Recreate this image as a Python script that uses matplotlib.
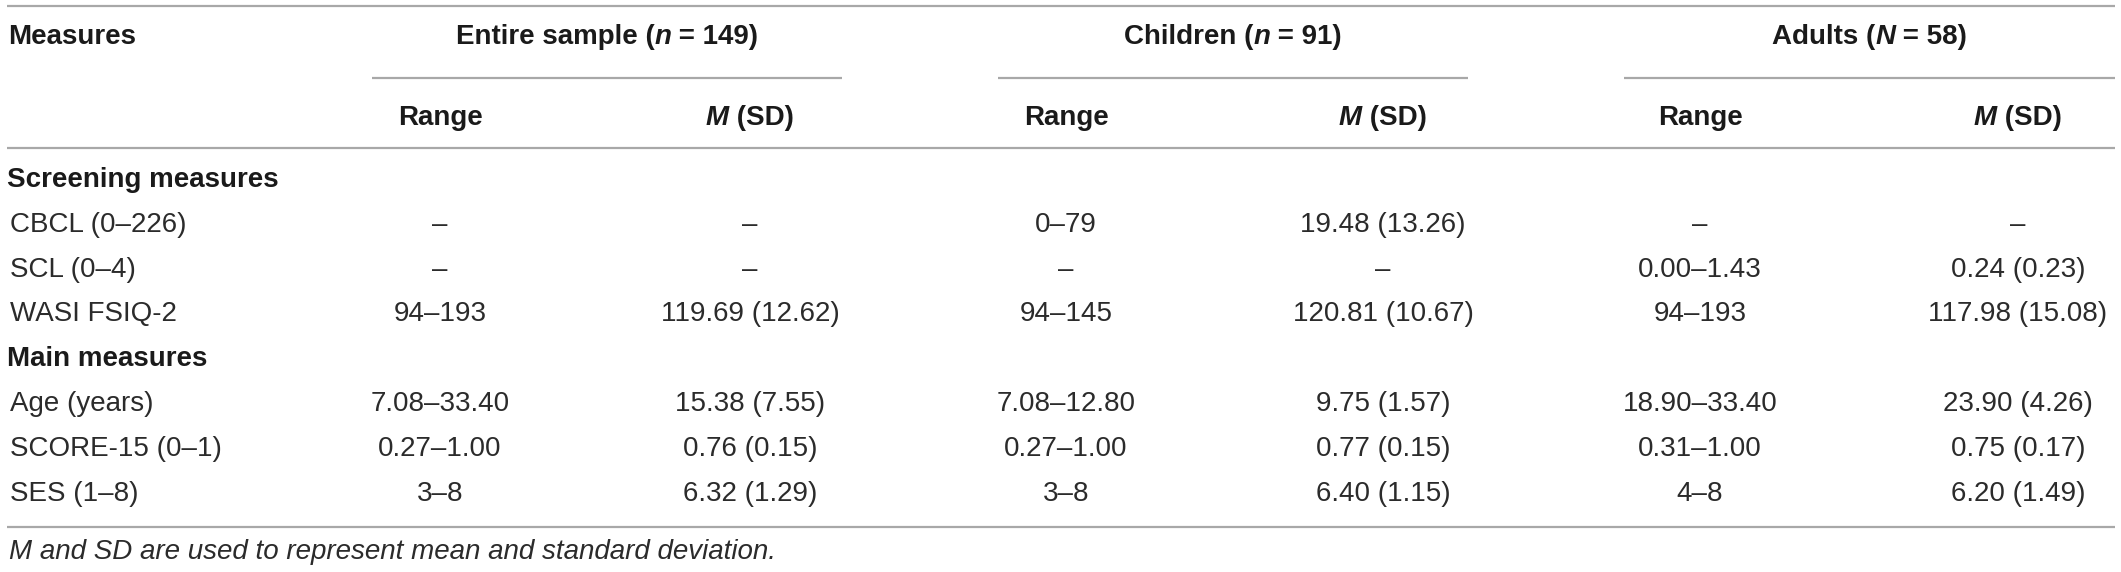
#!/usr/bin/env python3
"""
Descriptive statistics table: screening and main measures
for the entire sample, children and adults.
"""

import matplotlib.pyplot as plt

plt.rcParams['font.family'] = ['Liberation Sans', 'DejaVu Sans']
plt.rcParams['font.size'] = 20

# ---- table content ----
groups = [
    [('Entire sample (', 'normal'), ('n', 'italic'), (' = 149)', 'normal')],
    [('Children (', 'normal'), ('n', 'italic'), (' = 91)', 'normal')],
    [('Adults (', 'normal'), ('N', 'italic'), (' = 58)', 'normal')],
]
sub_headers = ['Range', 'M (SD)']

sections = ['Screening measures', 'Main measures']
screening_labels = ['CBCL (0\u2013226)', 'SCL (0\u20134)', 'WASI FSIQ-2']
screening_values = [
    ['\u2013', '\u2013', '0\u201379', '19.48 (13.26)', '\u2013', '\u2013'],
    ['\u2013', '\u2013', '\u2013', '\u2013', '0.00\u20131.43', '0.24 (0.23)'],
    ['94\u2013193', '119.69 (12.62)', '94\u2013145', '120.81 (10.67)', '94\u2013193', '117.98 (15.08)'],
]
main_labels = ['Age (years)', 'SCORE-15 (0\u20131)', 'SES (1\u20138)']
main_values = [
    ['7.08\u201333.40', '15.38 (7.55)', '7.08\u201312.80', '9.75 (1.57)', '18.90\u201333.40', '23.90 (4.26)'],
    ['0.27\u20131.00', '0.76 (0.15)', '0.27\u20131.00', '0.77 (0.15)', '0.31\u20131.00', '0.75 (0.17)'],
    ['3\u20138', '6.32 (1.29)', '3\u20138', '6.40 (1.15)', '4\u20138', '6.20 (1.49)'],
]
note = 'M and SD are used to represent mean and standard deviation.'

# ---- layout (pixels) ----
W, H = 2121, 572
LINE_COLOR = '#a8a8a8'
HEAD_COLOR = '#1a1a1a'
BODY_COLOR = '#2b2b2b'
col_x = [440, 750, 1066, 1383, 1700, 2018]
group_spans = [(372, 842), (998, 1468), (1624, 2115)]
left_x = 8
row_step = 44.8

fig = plt.figure(figsize=(W / 100, H / 100), dpi=100)
ax = fig.add_axes([0, 0, 1, 1])
ax.set_xlim(0, W)
ax.set_ylim(H, 0)
ax.axis('off')
renderer = fig.canvas.get_renderer()


def rich_text(x, y, parts, weight='normal', color=HEAD_COLOR):
    """Centered text made of pieces with different font styles."""
    items = []
    for s, style in parts:
        t = ax.text(0, y, s, fontstyle=style, fontweight=weight, color=color,
                    ha='left', va='center')
        items.append(t)
    widths = [t.get_window_extent(renderer).width for t in items]
    cur = x - sum(widths) / 2
    for t, w in zip(items, widths):
        t.set_x(cur)
        cur += w


def hline(y, x0=7, x1=2115, lw=1.6):
    ax.plot([x0, x1], [y, y], color=LINE_COLOR, linewidth=lw, solid_capstyle='butt')


# rules
hline(6)
hline(148)
hline(527)
for x0, x1 in group_spans:
    hline(78, x0, x1)

# header
ax.text(left_x, 37, 'Measures', fontweight='bold', color=HEAD_COLOR, va='center')
for (x0, x1), parts in zip(group_spans, groups):
    rich_text((x0 + x1) / 2, 37, parts, weight='bold')
for i, x in enumerate(col_x):
    if i % 2 == 0:
        rich_text(x, 118, [('Range', 'normal')], weight='bold')
    else:
        rich_text(x, 118, [('M', 'italic'), (' (SD)', 'normal')], weight='bold')

# body
y = 180
for section, labels, values in zip(sections,
                                   [screening_labels, main_labels],
                                   [screening_values, main_values]):
    ax.text(left_x - 1, y, section, fontweight='bold', color=HEAD_COLOR, va='center')
    y += row_step
    for label, row in zip(labels, values):
        ax.text(left_x + 2, y, label, color=BODY_COLOR, va='center')
        for x, val in zip(col_x, row):
            ax.text(x, y, val, color=BODY_COLOR, ha='center', va='center')
        y += row_step

ax.text(left_x + 1, 552, note, fontstyle='italic', color=BODY_COLOR, va='center')

fig.savefig('out.png', dpi=100, facecolor='white')
plt.close(fig)
